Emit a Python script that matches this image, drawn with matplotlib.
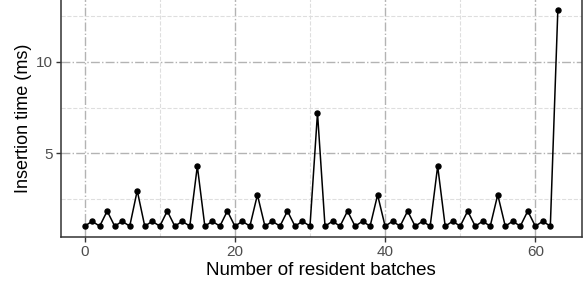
import matplotlib
matplotlib.use("Agg")
import matplotlib.pyplot as plt
import numpy as np

plt.rcParams['font.family'] = ['Liberation Sans', 'DejaVu Sans']

# insertion time per number of resident batches
batches = list(range(64))
times = [
    1.00, 1.27, 1.00, 1.83, 1.00, 1.27, 1.00, 2.95,
    1.00, 1.27, 1.00, 1.83, 1.00, 1.27, 1.00, 4.29,
    1.00, 1.27, 1.00, 1.83, 1.00, 1.27, 1.00, 2.72,
    1.00, 1.27, 1.00, 1.83, 1.00, 1.27, 1.00, 7.21,
    1.00, 1.27, 1.00, 1.83, 1.00, 1.27, 1.00, 2.72,
    1.00, 1.27, 1.00, 1.83, 1.00, 1.27, 1.00, 4.29,
    1.00, 1.27, 1.00, 1.83, 1.00, 1.27, 1.00, 2.72,
    1.00, 1.27, 1.00, 1.83, 1.00, 1.27, 1.00, 12.86,
]
xticks = [0, 20, 40, 60]
yticks = [5, 10]

fig = plt.figure(figsize=(5.87, 2.86), dpi=100)
ax = fig.add_axes([61/587, 49/286, 520.5/587, 238/286])

ax.plot(batches, times, color='black', lw=1.1, marker='o', ms=3.6, zorder=3)

xr = max(batches) - min(batches)
yr = max(times) - min(times)
ax.set_xlim(min(batches) - 0.05*xr, max(batches) + 0.05*xr)
ax.set_ylim(min(times) - 0.05*yr, max(times) + 0.05*yr)

ax.set_xticks(xticks)
ax.set_yticks(yticks)
ax.set_xticks([10, 30, 50], minor=True)
ax.set_yticks([2.5, 7.5, 12.5], minor=True)
ax.grid(which='major', color='#b3b3b3', lw=1.0, linestyle='-.')
ax.grid(which='minor', color='#dedede', lw=0.8, linestyle='--')
ax.set_axisbelow(True)

for s in ax.spines.values():
    s.set_color('#333333')
    s.set_linewidth(1.1)

ax.tick_params(which='major', direction='out', length=3.5, width=1.0,
               color='#333333', labelcolor='#4d4d4d', labelsize=11, pad=2.5)
ax.tick_params(which='minor', length=0)

ax.set_xlabel('Number of resident batches', fontsize=13.5, labelpad=2)
ax.set_ylabel('Insertion time (ms)', fontsize=13, labelpad=3)

fig.savefig('out.png', dpi=100)
